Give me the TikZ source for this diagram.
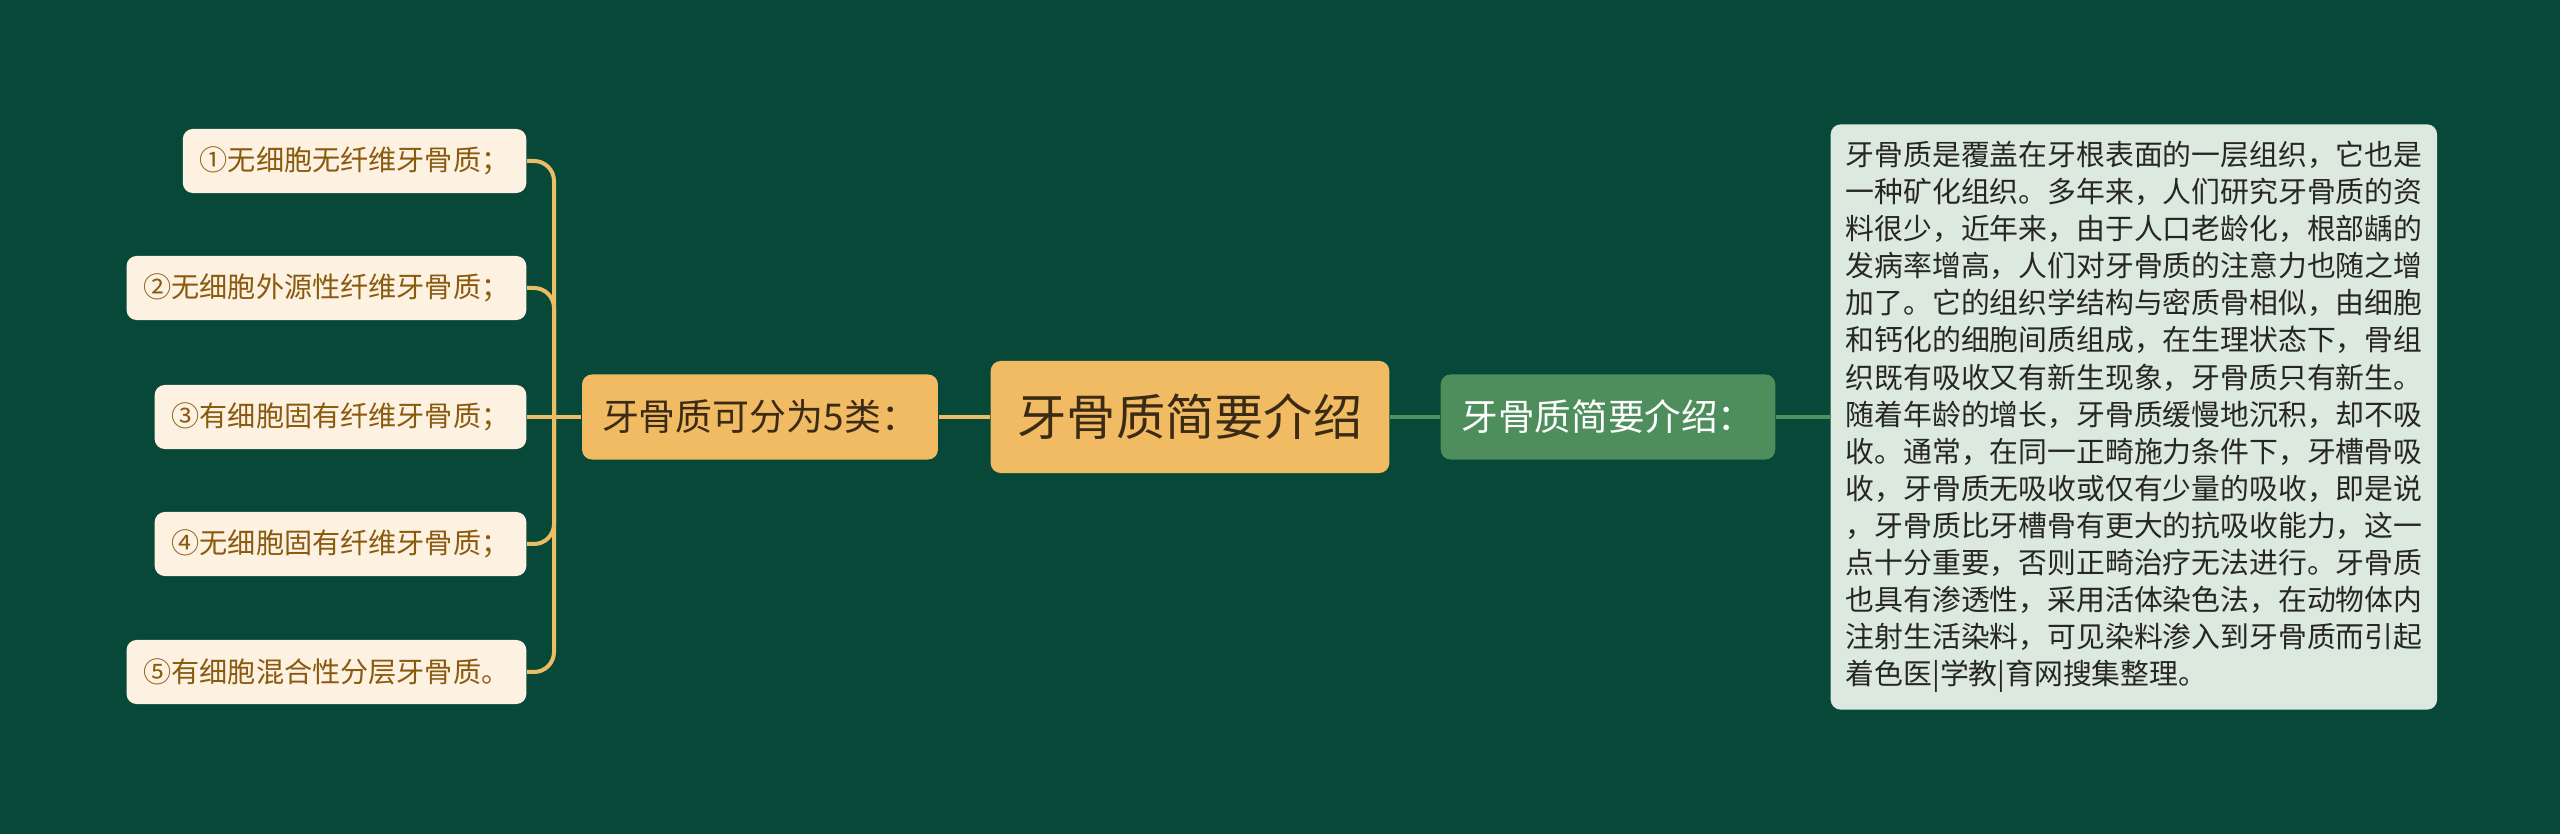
\documentclass[tikz,border=0pt]{standalone}
\usepackage{fontspec}
\newfontfamily\cjk{Noto Sans CJK SC}
\usepackage{xcolor}
\definecolor{bgGreen}{HTML}{074838}
\definecolor{leafFill}{HTML}{FDF1E2}
\definecolor{leafText}{HTML}{8A5A0E}
\definecolor{gold}{HTML}{F0BB62}
\definecolor{goldLine}{HTML}{EDBD63}
\definecolor{darkText}{HTML}{3B2A14}
\definecolor{subGreen}{HTML}{4E8E5C}
\definecolor{greenLine}{HTML}{4E9160}
\definecolor{noteFill}{HTML}{DCE9DF}
\tikzset{
	leaf/.style={fill=leafFill, text=leafText, rounded corners=0.1cm, anchor=east,
			minimum height=0.64cm, inner xsep=0.17cm, font=\cjk\fontsize{8}{10}\selectfont},
	topic/.style={fill=gold, text=darkText, rounded corners=0.1cm},
	goldlink/.style={draw=goldLine, line width=0.04cm},
	greenlink/.style={draw=greenLine, line width=0.04cm}
}

\begin{document}
\begin{tikzpicture}[x=0.01cm,y=-0.01cm]
	\fill[bgGreen] (0,0) rectangle (2560,834);
	% central topic
	\node[topic, minimum height=1.12cm, inner xsep=0.27cm, font=\cjk\fontsize{14}{16}\selectfont] (root) at (1190,417) {牙骨质简要介绍};
	% left branch
	\node[topic, minimum height=0.85cm, inner xsep=0.2cm, font=\cjk\fontsize{10.5}{12}\selectfont] (mid) at (760,417) {牙骨质可分为5类：};
	\node[leaf] (l1) at (527,161) {①无细胞无纤维牙骨质；};
	\node[leaf] (l2) at (527,288) {②无细胞外源性纤维牙骨质；};
	\node[leaf] (l3) at (527,417) {③有细胞固有纤维牙骨质；};
	\node[leaf] (l4) at (527,544) {④无细胞固有纤维牙骨质；};
	\node[leaf] (l5) at (527,672) {⑤有细胞混合性分层牙骨质。};
	\coordinate (fork) at (554,417);
	% right branch
	\node[fill=subGreen, text=white, rounded corners=0.1cm, minimum height=0.85cm, inner xsep=0.21cm,
		font=\cjk\fontsize{10.4}{12}\selectfont] (sub) at (1608,417) {牙骨质简要介绍：};
	\node[fill=noteFill, text=black!85, rounded corners=0.1cm, anchor=west, text width=5.76cm,
		inner xsep=0.15cm, minimum height=5.85cm, align=left,
		font=\cjk\fontsize{8.2}{10.55}\selectfont] (note) at (1830,417) {%
		牙骨质是覆盖在牙根表面的一层组织，它也是\\
		一种矿化组织。多年来，人们研究牙骨质的资\\
		料很少，近年来，由于人口老龄化，根部龋的\\
		发病率增高，人们对牙骨质的注意力也随之增\\
		加了。它的组织学结构与密质骨相似，由细胞\\
		和钙化的细胞间质组成，在生理状态下，骨组\\
		织既有吸收又有新生现象，牙骨质只有新生。\\
		随着年龄的增长，牙骨质缓慢地沉积，却不吸\\
		收。通常，在同一正畸施力条件下，牙槽骨吸\\
		收，牙骨质无吸收或仅有少量的吸收，即是说\\
		，牙骨质比牙槽骨有更大的抗吸收能力，这一\\
		点十分重要，否则正畸治疗无法进行。牙骨质\\
		也具有渗透性，采用活体染色法，在动物体内\\
		注射生活染料，可见染料渗入到牙骨质而引起\\
		着色医|学教|育网搜集整理。};
	% connectors
	\draw[goldlink] (root.west) -- (mid.east);
	\draw[goldlink] (mid.west) -- (l3.east);
	\foreach \i in {1,2,4,5}
		\draw[goldlink, rounded corners=0.2cm] (fork) |- (l\i.east);
	\draw[greenlink] (root.east) -- (sub.west);
	\draw[greenlink] (sub.east) -- (note.west);
\end{tikzpicture}
\end{document}
